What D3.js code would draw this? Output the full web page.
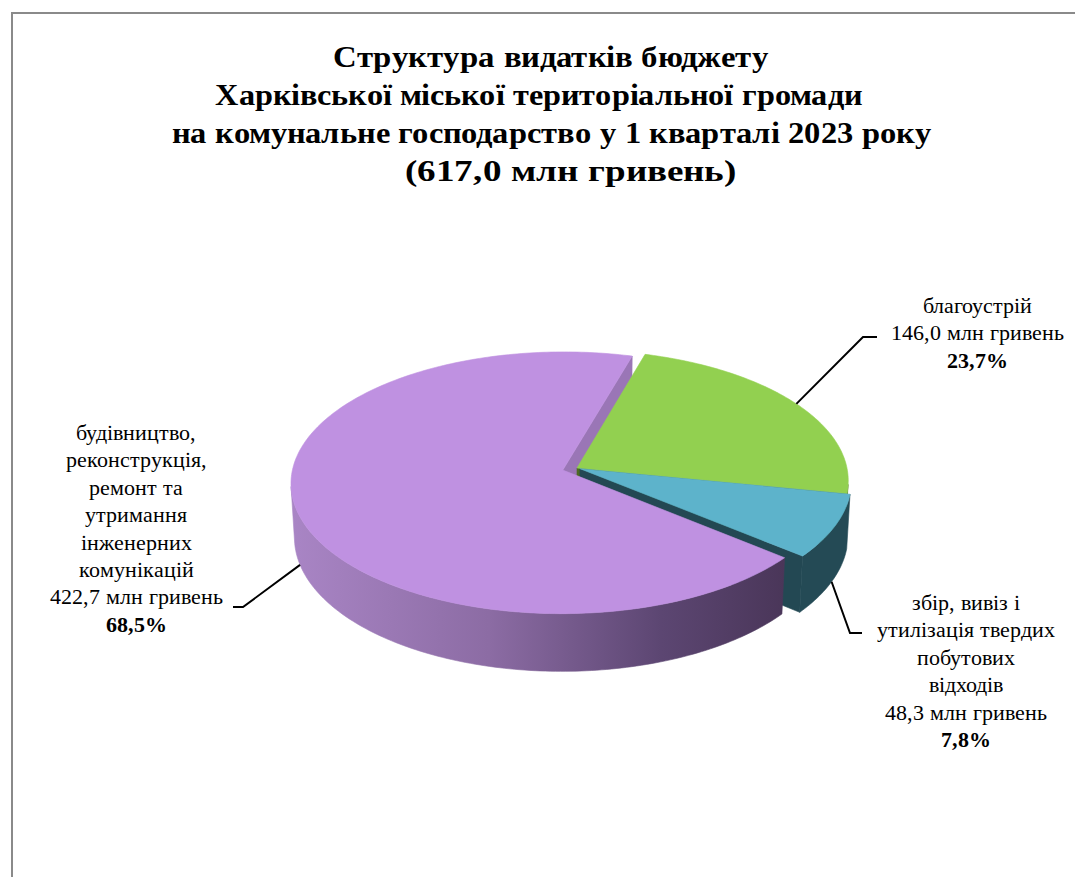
<!DOCTYPE html>
<html><head><meta charset="utf-8">
<script src="https://cdn.jsdelivr.net/npm/d3@7"></script>
<style>
@font-face{font-family:"ChartSerif";src:local("Liberation Serif"),local("LiberationSerif"),local("Tinos"),local("Times New Roman");font-weight:400;font-style:normal;font-display:swap;}
@font-face{font-family:"ChartSerif";src:local("Liberation Serif Bold"),local("LiberationSerif-Bold"),local("Tinos Bold"),local("Times New Roman Bold");font-weight:700;font-style:normal;font-display:swap;}
html,body{margin:0;padding:0;background:#fff;}
svg{display:block;}
</style>
</head><body>
<svg id="chart" width="1075" height="877"></svg>
<script>
// ---------- DATA ----------
const titleLines = ["Структура  видатків бюджету", "Харківської міської територіальної громади",
  "на комунальне господарство у 1 кварталі 2023 року", "(617,0 млн гривень)"];
const categories = ["благоустрій", "збір, вивіз і утилізація твердих побутових відходів",
  "будівництво, реконструкція, ремонт та утримання інженерних комунікацій"];
const values = [146.0, 48.3, 422.7];
const valueLabels = ["146,0 млн гривень", "48,3 млн гривень", "422,7 млн гривень"];
const percentLabels = ["23,7%", "7,8%", "68,5%"];
const nameLines = [["благоустрій"], ["збір, вивіз і", "утилізація твердих", "побутових", "відходів"],
  ["будівництво,", "реконструкція,", "ремонт та", "утримання", "інженерних", "комунікацій"]];

// ---------- LAYOUT / STYLE ----------
const W = 1075, H = 877;
const svg = d3.select("#chart");
const serifFont = "ChartSerif, 'Liberation Serif', Tinos, 'DejaVu Serif', serif";
const topColors = ["#92d050", "#5db3cb", "#bf91e1"];
const sideColors = ["#5b7d2c", "#244a55", "url(#purpleSide)"];
const cutColors = ["#4d6a24", "#234853", "#9a76b6"];
const explode = [0, 0.012, 0.055];
const titleLayout = [{x0: 333, x1: 768, y: 67}, {x0: 215, x1: 862, y: 105}, {x0: 172, x1: 931, y: 143}, {x0: 405, x1: 736, y: 181}];
const labelLayout = [{cx: 977, y0: 313, elbow: [[863, 337], [877, 337]]},
                     {cx: 966, y0: 610, elbow: [[850, 633], [862, 633]]},
                     {cx: 136, y0: 440, elbow: [[243, 607], [233, 607]]}];
const lineH = 27.4, labelSize = 22, titleSize = 30;

// border
svg.append("path").attr("d", `M12,${H}V13H${W}`).attr("fill", "none").attr("stroke", "#8a8a8a").attr("stroke-width", 2);

// title
svg.append("g").attr("class", "title").selectAll("text").data(titleLines).join("text")
  .attr("class", "ttl")
  .attr("x", (d, i) => titleLayout[i].x0).attr("y", (d, i) => titleLayout[i].y)
  .attr("textLength", (d, i) => titleLayout[i].x1 - titleLayout[i].x0)
  .attr("lengthAdjust", "spacingAndGlyphs")
  .style("font-family", serifFont).style("font-weight", "bold").style("font-size", titleSize + "px")
  .attr("fill", "#000").text(d => d);

// ---------- 3D PIE ----------
const cx = 577, cy = 468, D = 9.09, phi = 28.6 * Math.PI / 180, T = 0.23, F = 2454;
const sinP = Math.sin(phi), cosP = Math.cos(phi);
const sx = d3.scaleLinear().domain([0, 1]).range([cx, cx + F]);
const sy = d3.scaleLinear().domain([0, 1]).range([cy, cy - F]);
function camZ(x, d, h) { return D + d * cosP - h * sinP; }
function project(x, d, h) {
  const z = camZ(x, d, h), yc = d * sinP + h * cosP;
  return [sx(x / z), sy(yc / z)];
}
const start = 16 * Math.PI / 180;
const pie = d3.pie().sort(null).value(d => d).startAngle(start).endAngle(start + 2 * Math.PI);
const arcs = pie(values);

const defs = svg.append("defs");
const line = d3.line();

function offsetOf(i) {
  const a = arcs[i], mid = (a.startAngle + a.endAngle) / 2, e = explode[i];
  return [e * Math.sin(mid), e * Math.cos(mid)];
}
function rim(i, a0, a1, h, steps) {
  const [ox, od] = offsetOf(i), pts = [];
  const n = steps || Math.max(2, Math.ceil(Math.abs(a1 - a0) / (Math.PI / 180)));
  for (let k = 0; k <= n; k++) {
    const t = a0 + (a1 - a0) * k / n;
    pts.push(project(ox + Math.sin(t), od + Math.cos(t), h));
  }
  return pts;
}
function centerPt(i, h) { const [ox, od] = offsetOf(i); return project(ox, od, h); }
function area(pts) { let s = 0; for (let k = 0; k < pts.length; k++) { const p = pts[k], q = pts[(k + 1) % pts.length]; s += p[0] * q[1] - q[0] * p[1]; } return s / 2; }

const faces = [];
const vis0 = Math.acos(-1 / (D * cosP)), vis1 = 2 * Math.PI - vis0;
arcs.forEach((a, i) => {
  const [ox, od] = offsetOf(i);
  for (const shift of [0, 2 * Math.PI]) {
    const s0 = Math.max(a.startAngle, vis0 + shift), s1 = Math.min(a.endAngle, vis1 + shift);
    if (s1 > s0) {
      const top = rim(i, s0, s1, 0), bot = rim(i, s0, s1, -T).reverse();
      const mid = (s0 + s1) / 2;
      faces.push({pts: top.concat(bot), fill: sideColors[i], z: camZ(ox + Math.sin(mid), od + Math.cos(mid), -T / 2), side: true, i});
    }
  }
  [["end", a.endAngle], ["start", a.startAngle]].forEach(([kind, t]) => {
    const ct = centerPt(i, 0), cb = centerPt(i, -T);
    const rt = project(ox + Math.sin(t), od + Math.cos(t), 0), rb = project(ox + Math.sin(t), od + Math.cos(t), -T);
    const pts = kind === "end" ? [ct, rt, rb, cb] : [ct, cb, rb, rt];
    if (area(pts) > 0) {
      faces.push({pts, fill: cutColors[i], z: camZ(ox + 0.5 * Math.sin(t), od + 0.5 * Math.cos(t), -T / 2), i});
    }
  });
});
const purpleSide = faces.find(f => f.side && f.i === 2);
const xs = purpleSide ? purpleSide.pts.map(p => p[0]) : [300, 800];
const grad = defs.append("linearGradient").attr("id", "purpleSide").attr("gradientUnits", "userSpaceOnUse")
  .attr("x1", d3.min(xs)).attr("x2", d3.max(xs)).attr("y1", 0).attr("y2", 0);
[[0, "#a985c5"], [0.4, "#8c6ca4"], [0.75, "#5c4672"], [1, "#4a3659"]].forEach(([o, c]) =>
  grad.append("stop").attr("offset", o).attr("stop-color", c));

faces.sort((a, b) => b.z - a.z);
const gPie = svg.append("g");
gPie.selectAll("path.face").data(faces).join("path").attr("class", "face")
  .attr("d", f => line(f.pts) + "Z").attr("fill", f => f.fill)
  .attr("stroke", f => f.fill).attr("stroke-width", 0.6).attr("stroke-linejoin", "round");
gPie.selectAll("path.top").data(arcs).join("path").attr("class", "top")
  .attr("d", (a, i) => line([centerPt(i, 0)].concat(rim(i, a.startAngle, a.endAngle, 0))) + "Z")
  .attr("fill", (a, i) => topColors[i]).attr("stroke", (a, i) => topColors[i]).attr("stroke-width", 0.6);

// ---------- LABELS & LEADERS ----------
const anchorH = [0, -T, -T];
arcs.forEach((a, i) => {
  const mid = (a.startAngle + a.endAngle) / 2, [ox, od] = offsetOf(i);
  const anchor = project(ox + Math.sin(mid), od + Math.cos(mid), anchorH[i]);
  svg.append("path").attr("d", line([anchor].concat(labelLayout[i].elbow)))
    .attr("fill", "none").attr("stroke", "#000").attr("stroke-width", 2);
  const lines = nameLines[i].map(t => ({t, b: false})).concat([{t: valueLabels[i], b: false}, {t: percentLabels[i], b: true}]);
  svg.append("g").attr("class", "label").selectAll("text").data(lines).join("text")
    .attr("class", "lbl")
    .attr("x", labelLayout[i].cx).attr("y", (d, k) => labelLayout[i].y0 + k * lineH)
    .attr("text-anchor", "middle")
    .style("font-family", serifFont).style("font-size", labelSize + "px")
    .style("font-weight", d => d.b ? "bold" : "normal").attr("fill", "#000").text(d => d.t);
});

// make sure the local serif faces are resolved, then re-apply
if (document.fonts && document.fonts.load) {
  Promise.all([document.fonts.load("22px ChartSerif"), document.fonts.load("bold 22px ChartSerif"),
               document.fonts.load("bold 30px ChartSerif")]).then(() => {
    svg.selectAll("text").style("font-family", serifFont);
  }).catch(() => {});
}
</script>
</body></html>
